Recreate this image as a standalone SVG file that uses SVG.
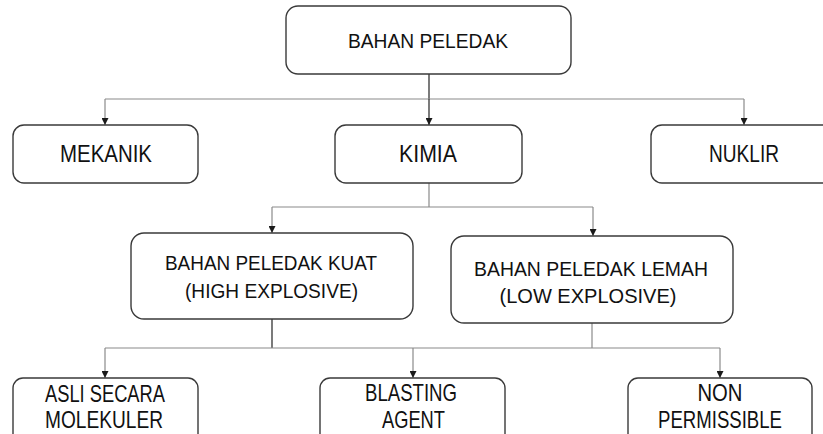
<svg xmlns="http://www.w3.org/2000/svg" width="823" height="434" viewBox="0 0 823 434">
  <style>
    .box { fill: #ffffff; stroke: #3a3a3a; stroke-width: 1.4; }
    .lbl { font-family: "Liberation Sans", Arial, sans-serif; fill: #111111; text-anchor: middle; }
    .wire { fill: none; stroke: #8a8a8a; stroke-width: 1.2; }
    .stem { fill: none; stroke: #333333; stroke-width: 1.3; }
  </style>
  <defs>
    <marker id="tip" viewBox="0 0 10 10" refX="10" refY="5" markerWidth="7" markerHeight="7" markerUnits="userSpaceOnUse" orient="auto">
      <path d="M0,0 L10,5 L0,10 Z" fill="#1a1a1a"/>
    </marker>
  </defs>
  <rect width="823" height="434" fill="#ffffff"/>

  <!-- connectors -->
  <g id="connectors">
    <!-- root to first level -->
    <path class="stem" d="M429,74 V99"/>
    <path class="wire" d="M105,99 H744"/>
    <path class="stem" d="M429,99 V125" marker-end="url(#tip)"/>
    <path class="wire" d="M105,99 V125" marker-end="url(#tip)"/>
    <path class="wire" d="M744,99 V125" marker-end="url(#tip)"/>
    <!-- KIMIA to explosive classes -->
    <path class="wire" d="M429,183 V207 M272,207 H593"/>
    <path class="wire" d="M272,207 V233" marker-end="url(#tip)"/>
    <path class="wire" d="M593,207 V236" marker-end="url(#tip)"/>
    <!-- explosive classes to bottom row -->
    <path class="stem" d="M272,319 V348"/>
    <path class="wire" d="M592,323 V348"/>
    <path class="wire" d="M105,348 H720"/>
    <path class="wire" d="M105,348 V378" marker-end="url(#tip)"/>
    <path class="wire" d="M413,348 V378" marker-end="url(#tip)"/>
    <path class="wire" d="M720,348 V378" marker-end="url(#tip)"/>
  </g>

  <g id="bahan-peledak">
    <rect class="box" x="286" y="6" width="285" height="68" rx="12"/>
    <text class="lbl" x="428" y="48" font-size="21" textLength="160" lengthAdjust="spacingAndGlyphs">BAHAN PELEDAK</text>
  </g>

  <g id="mekanik">
    <rect class="box" x="13" y="125" width="185" height="58" rx="11"/>
    <text class="lbl" x="106" y="162" font-size="23" textLength="92" lengthAdjust="spacingAndGlyphs">MEKANIK</text>
  </g>

  <g id="kimia">
    <rect class="box" x="335" y="125" width="187" height="58" rx="11"/>
    <text class="lbl" x="428" y="162" font-size="23" textLength="58" lengthAdjust="spacingAndGlyphs">KIMIA</text>
  </g>

  <g id="nuklir">
    <rect class="box" x="651" y="125" width="185" height="58" rx="11"/>
    <text class="lbl" x="744" y="162" font-size="23" textLength="70" lengthAdjust="spacingAndGlyphs">NUKLIR</text>
  </g>

  <g id="high-explosive">
    <rect class="box" x="131" y="233" width="282" height="86" rx="13"/>
    <text class="lbl" x="271" y="270" font-size="21" textLength="212" lengthAdjust="spacingAndGlyphs">BAHAN PELEDAK KUAT</text>
    <text class="lbl" x="271.5" y="298" font-size="21" textLength="173" lengthAdjust="spacingAndGlyphs">(HIGH EXPLOSIVE)</text>
  </g>

  <g id="low-explosive">
    <rect class="box" x="451" y="236" width="282" height="87" rx="13"/>
    <text class="lbl" x="591" y="276" font-size="21" textLength="234" lengthAdjust="spacingAndGlyphs">BAHAN PELEDAK LEMAH</text>
    <text class="lbl" x="588" y="303" font-size="21" textLength="177" lengthAdjust="spacingAndGlyphs">(LOW EXPLOSIVE)</text>
  </g>

  <g id="asli-secara-molekuler">
    <rect class="box" x="13" y="378" width="185" height="70" rx="10"/>
    <text class="lbl" x="105" y="402" font-size="24" textLength="120" lengthAdjust="spacingAndGlyphs">ASLI SECARA</text>
    <text class="lbl" x="104" y="428" font-size="24" textLength="118" lengthAdjust="spacingAndGlyphs">MOLEKULER</text>
  </g>

  <g id="blasting-agent">
    <rect class="box" x="320" y="378" width="185" height="70" rx="10"/>
    <text class="lbl" x="411" y="401" font-size="24" textLength="92" lengthAdjust="spacingAndGlyphs">BLASTING</text>
    <text class="lbl" x="413.5" y="428" font-size="24" textLength="63" lengthAdjust="spacingAndGlyphs">AGENT</text>
  </g>

  <g id="non-permissible">
    <rect class="box" x="628" y="378" width="184" height="70" rx="10"/>
    <text class="lbl" x="720" y="401" font-size="24" textLength="45" lengthAdjust="spacingAndGlyphs">NON</text>
    <text class="lbl" x="720" y="428" font-size="24" textLength="124" lengthAdjust="spacingAndGlyphs">PERMISSIBLE</text>
  </g>
</svg>
